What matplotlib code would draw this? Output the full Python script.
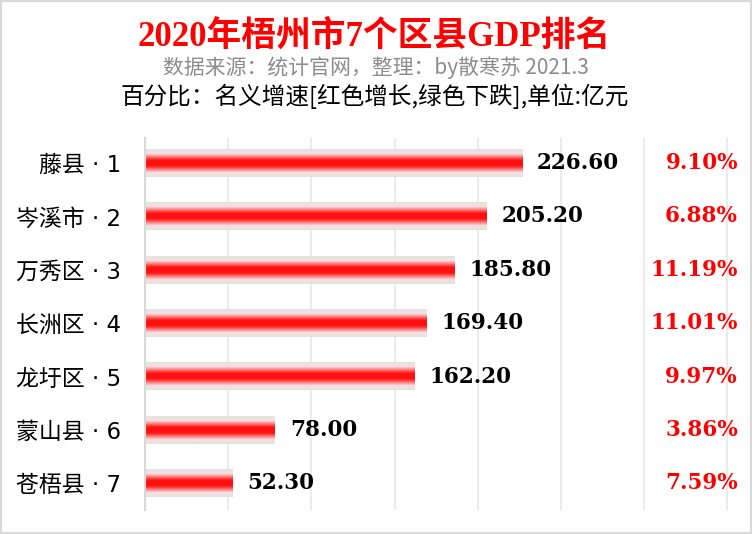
import numpy as np
import matplotlib.pyplot as plt
from matplotlib.colors import LinearSegmentedColormap
from matplotlib.patches import Rectangle
import matplotlib.transforms as mtransforms

plt.rcParams['font.family'] = ['Noto Sans CJK SC', 'DejaVu Sans']

counties = ["藤县", "岑溪市", "万秀区", "长洲区", "龙圩区", "蒙山县", "苍梧县"]
gdp = [226.60, 205.20, 185.80, 169.40, 162.20, 78.00, 52.30]
growth = [9.10, 6.88, 11.19, 11.01, 9.97, 3.86, 7.59]

title = "2020年梧州市7个区县GDP排名"
source = "数据来源：统计官网，整理：by散寒苏 2021.3"
note = "百分比：名义增速[红色增长,绿色下跌],单位:亿元"

W, H = 752, 534
fig = plt.figure(figsize=(W / 100, H / 100), dpi=100)
fig.patch.set_facecolor("white")
fig.patches.append(Rectangle((0, 0), 1, 1, transform=fig.transFigure,
                             fill=False, edgecolor="#d9d9d9", linewidth=3))

ax = fig.add_axes([145 / W, 1 - 510 / H, 599 / W, 372 / H])

# vertical gradient: gray edges -> red centre
cmap = LinearSegmentedColormap.from_list(
    "redbar", [(0.0, "#e2e2e2"), (0.15, "#f6e2e2"), (0.4, "#ff1010"),
               (0.6, "#ff1010"), (0.85, "#f6e2e2"), (1.0, "#e2e2e2")])
grad = np.linspace(0, 1, 64).reshape(-1, 1)

ypos = np.arange(len(counties))
bars = ax.barh(ypos, gdp, height=0.52, color="none", zorder=2)
for b, v, g in zip(bars, gdp, growth):
    x0, y0, w, h = b.get_x(), b.get_y(), b.get_width(), b.get_height()
    ax.imshow(grad, extent=(x0, x0 + w, y0, y0 + h), aspect="auto",
              cmap=cmap, zorder=2, interpolation="bilinear")
    ax.text(v + 9, b.get_y() + h / 2, f"{v:.2f}", va="center", ha="left",
            fontsize=15.5, fontweight="bold", family="DejaVu Serif", color="black")
    ax.text(738 / W, b.get_y() + h / 2, f"{g:.2f}%", va="center", ha="right",
            fontsize=15.5, fontweight="bold", family="DejaVu Serif",
            color="red" if g >= 0 else "green",
            transform=mtransforms.blended_transform_factory(fig.transFigure, ax.transData))

ax.set_xlim(0, 360)
ax.set_ylim(len(counties) - 0.5, -0.47)
ax.set_xticks(np.arange(0, 351, 50))
ax.set_xticklabels([])
ax.set_yticks(ypos)
ax.set_yticklabels([f"{c} · {i + 1}" for i, c in enumerate(counties)], fontsize=16.5,
                   family=["DejaVu Sans", "Noto Sans CJK SC"])
ax.tick_params(length=0, pad=17)
ax.grid(axis="x", color="#ebebeb", linewidth=1.5, zorder=0)
ax.set_axisbelow(True)
for s in ["top", "right", "bottom"]:
    ax.spines[s].set_visible(False)
ax.spines["left"].set_color("#d9d9d9")
ax.spines["left"].set_linewidth(1.5)

fig.text(374 / W, 1 - 37 / H, title, ha="center", va="center", color="red",
         fontsize=25, fontweight="bold", family=["Liberation Serif", "Noto Sans CJK SC"])
fig.text(376 / W, 1 - 68 / H, source, ha="center", va="center", color="#8c8c8c", fontsize=15)
fig.text(375 / W, 1 - 96 / H, note, ha="center", va="center", color="black", fontsize=17)

fig.savefig("out.png", dpi=100)
